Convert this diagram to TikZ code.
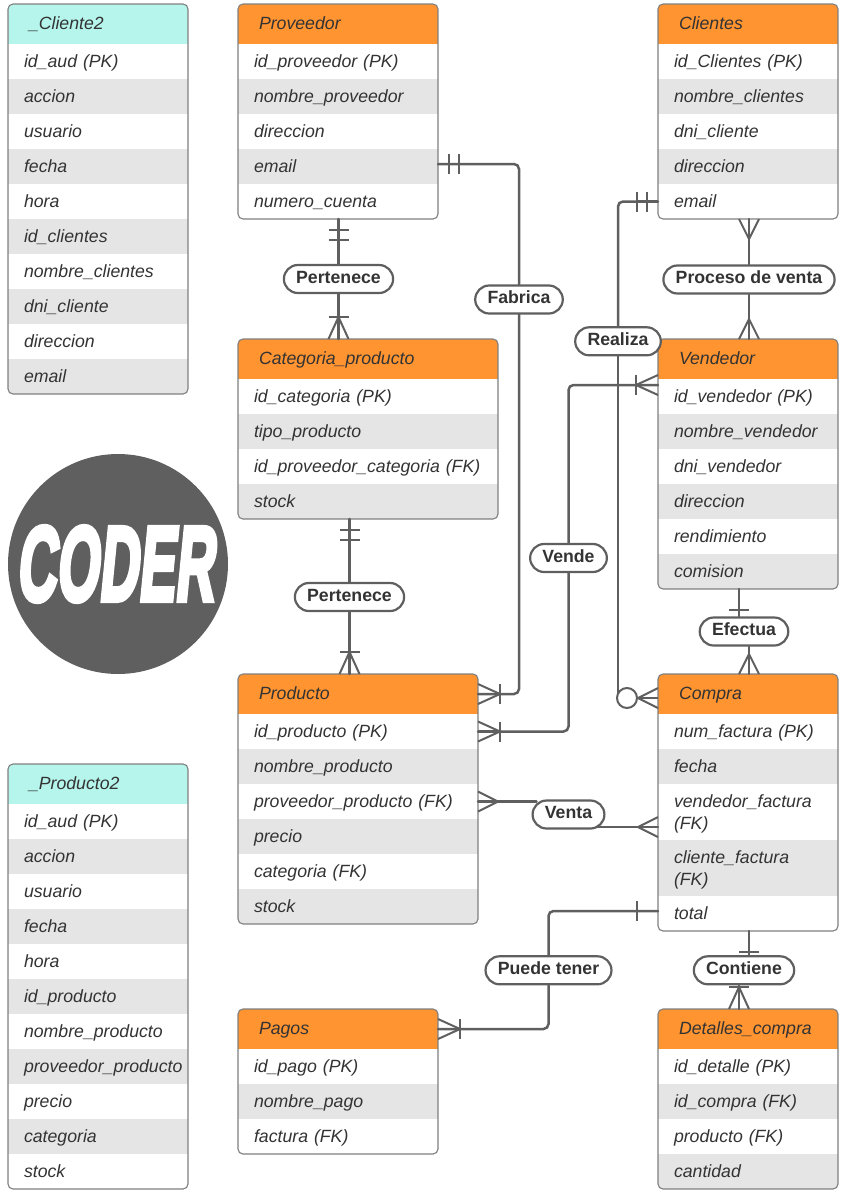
\documentclass[tikz,border=0pt]{standalone}
\usepackage{fontspec}
\setmainfont{Liberation Sans}
\newfontfamily\coderfont[FakeSlant=0.19,FakeBold=5]{Liberation Sans Bold}
\definecolor{hdrorange}{HTML}{FF9431}
\definecolor{hdraqua}{HTML}{B5F5EC}
\definecolor{rowgray}{HTML}{E5E5E5}
\definecolor{linegray}{HTML}{5F5F5F}
\definecolor{framegray}{HTML}{7F7F7F}
\definecolor{inkgray}{HTML}{333333}
\hyphenpenalty=10000
\catcode`\_=12
\newcommand{\rowstrut}{\rule[-4.2pt]{0pt}{21.2pt}}
\newcommand{\hdrstrut}{\rule[-6.2pt]{0pt}{23.2pt}}
\tikzset{
  tablecell/.style={anchor=north west,outer sep=0pt,inner ysep=0pt,align=left,text=inkgray,
    font=\fontsize{17.7}{21}\selectfont\itshape},
  tableframe/.style={draw=framegray,line width=1.1pt,rounded corners=5pt,anchor=north west,outer sep=0pt,inner sep=0pt},
  relline/.style={draw=linegray,line width=2.5pt},
  markline/.style={draw=linegray,line width=2.8pt,line cap=butt},
  crowline/.style={draw=linegray,line width=2pt,line cap=butt},
  rellabel/.style={draw=linegray,line width=2.2pt,fill=white,rounded corners=14pt,minimum height=28pt,
    inner xsep=12.3pt,inner ysep=0pt,text height=14pt,text depth=6pt,text=inkgray,font=\fontsize{17.7}{20}\selectfont\bfseries},
  % the end marks, each one drawn pointing along +x from the table edge
  crowbar/.pic={\draw[crowline] (0,-10) -- (22,0) -- (0,10);
    \draw[markline] (0,0) -- (22,0) (22,-10) -- (22,10);},
  crowonly/.pic={\draw[crowline] (0,-10) -- (20,0) -- (0,10);
    \draw[markline] (0,0) -- (20,0);},
  crowzero/.pic={\draw[crowline] (0,-10) -- (20,0) -- (0,10);
    \draw[markline] (0,0) -- (20,0);
    \draw[crowline,fill=white] (31,0) circle (10);},
  onebar/.pic={\draw[markline] (0,0) -- (21,0) (21,-10) -- (21,10);},
  twobar/.pic={\draw[markline] (0,0) -- (21,0) (11,-10) -- (11,10) (21,-10) -- (21,10);}
}
% name, x, y, width, height, header colour, title, rows
\newcommand{\erdtable}[8]{
  \begin{scope}
    \clip[rounded corners=5pt] (#2,#3) rectangle ++(#4,#5);
    \pgfmathsetlengthmacro{\hdrw}{#4-42}
    \pgfmathsetlengthmacro{\cellw}{#4-32}
    \node[tablecell,minimum width=#4pt,minimum height=40pt,text width=\hdrw,inner xsep=21pt,fill=#6] (#1-0) at (#2,#3) {\hdrstrut#7};
    \draw[inkgray,line width=0.9pt] (#1-0.south west) -- (#1-0.south east);
    \foreach \rowtext/\rowh [count=\rowi] in {#8}{
      \pgfmathtruncatemacro{\rowprev}{\rowi-1}
      \ifodd\rowi \def\rowfill{white}\else \def\rowfill{rowgray}\fi
      \node[tablecell,minimum width=#4pt,minimum height=\rowh pt,text width=\cellw,inner xsep=16pt,fill=\rowfill] (#1-\rowi) at (#1-\rowprev.south west) {\rowstrut\rowtext\rowstrut};
    }
  \end{scope}
  \node[tableframe,minimum width=#4pt,minimum height=#5pt] (#1) at (#2,#3) {};
}
\begin{document}
\begin{tikzpicture}[x=1pt,y=-1pt,cap=round]
  \useasboundingbox (0,0) rectangle (845,1195);

  % tables on the left
  \erdtable{cliente2}{8}{4}{180}{390}{hdraqua}{_Cliente2}{id_aud (PK)/35,accion/35,usuario/35,fecha/35,hora/35,id_clientes/35,nombre_clientes/35,dni_cliente/35,direccion/35,email/35}
  \erdtable{producto2}{8}{764}{180}{425}{hdraqua}{_Producto2}{id_aud (PK)/35,accion/35,usuario/35,fecha/35,hora/35,id_producto/35,nombre_producto/35,proveedor_producto/35,precio/35,categoria/35,stock/35}

  % the logo
  \fill[linegray] (118,564) circle (110);
  \node[text=white,font=\coderfont\fontsize{114}{114}\selectfont] (logo) at (115,564) {\scalebox{0.48}[0.93]{CODER}};

  % tables in the middle
  \erdtable{proveedor}{238}{4}{200}{215}{hdrorange}{Proveedor}{id_proveedor (PK)/35,nombre_proveedor/35,direccion/35,email/35,numero_cuenta/35}
  \erdtable{categoria}{238}{339}{260}{180}{hdrorange}{Categoria_producto}{id_categoria (PK)/35,tipo_producto/35,id_proveedor_categoria (FK)/35,stock/35}
  \erdtable{producto}{238}{674}{240}{250}{hdrorange}{Producto}{id_producto (PK)/35,nombre_producto/35,proveedor_producto (FK)/35,precio/35,categoria (FK)/35,stock/35}
  \erdtable{pagos}{238}{1009}{200}{145}{hdrorange}{Pagos}{id_pago (PK)/35,nombre_pago/35,factura (FK)/35}

  % tables on the right
  \erdtable{clientes}{658}{4}{180}{215}{hdrorange}{Clientes}{id_Clientes (PK)/35,nombre_clientes/35,dni_cliente/35,direccion/35,email/35}
  \erdtable{vendedor}{658}{339}{180}{250}{hdrorange}{Vendedor}{id_vendedor (PK)/35,nombre_vendedor/35,dni_vendedor/35,direccion/35,rendimiento/35,comision/35}
  \erdtable{compra}{658}{674}{180}{257}{hdrorange}{Compra}{num_factura (PK)/35,fecha/35,vendedor_factura\\(FK)/56,cliente_factura\\(FK)/56,total/35}
  \erdtable{detalles}{658}{1009}{180}{180}{hdrorange}{Detalles_compra}{id_detalle (PK)/35,id_compra (FK)/35,producto (FK)/35,cantidad/35}

  % the relations
  \node[rellabel] (pertenece1) at (338.5,279) {Pertenece};
  \node[rellabel] (pertenece2) at (349.5,597) {Pertenece};
  \node[rellabel] (fabrica) at (519,299.5) {Fabrica};
  \node[rellabel] (realiza) at (618,341.3) {Realiza};
  \node[rellabel] (procesoventa) at (749,279.5) {Proceso de venta};
  \node[rellabel] (vende) at (568.5,558) {Vende};
  \node[rellabel] (efectua) at (744,631.5) {Efectua};
  \node[rellabel] (venta) at (568.5,814.5) {Venta};
  \node[rellabel] (puedetener) at (548.5,970.3) {Puede tener};
  \node[rellabel] (contiene) at (744,970.3) {Contiene};

  % connectors
  \draw[relline] (pertenece1.north) -- (pertenece1.north |- proveedor.south);
  \draw[relline] (pertenece1.south) -- (pertenece1.south |- categoria.north);
  \draw[relline] (pertenece2.north) -- (pertenece2.north |- categoria.south);
  \draw[relline] (pertenece2.south) -- (pertenece2.south |- producto.north);
  \draw[relline,rounded corners=5pt] ([yshift=2.5pt]proveedor-4.east) -| (fabrica.north);
  \draw[relline,rounded corners=5pt] (fabrica.south) |- (producto-0.east);
  \draw[relline,rounded corners=5pt] (clientes-5.west) -| (realiza.north);
  \draw[relline] (realiza.south) -- ([yshift=-4pt]realiza.south |- compra-0.west);
  \draw[relline,rounded corners=5pt] ([yshift=11.5pt]vendedor-1.west) -| (vende.north);
  \draw[relline,rounded corners=5pt] (vende.south) |- (producto-1.east);
  \draw[relline] (procesoventa.north) -- (procesoventa.north |- clientes.south);
  \draw[relline] (procesoventa.south) -- (procesoventa.south |- vendedor.north);
  \draw[relline] ([xshift=-5pt]efectua.north) -- ([xshift=-5pt]efectua.north |- vendedor.south);
  \draw[relline] ([xshift=5pt]efectua.south) -- ([xshift=5pt]efectua.south |- compra.north);
  \draw[relline] (producto-3.east) -- ([xshift=5pt]producto-3.east -| venta.west);
  \draw[relline] ([yshift=-15pt]compra-3.west) -- ([xshift=-8pt,yshift=-15pt]compra-3.west -| venta.east);
  \draw[relline,rounded corners=5pt] ([yshift=2.5pt]compra-5.west) -| (puedetener.north);
  \draw[relline,rounded corners=5pt] (puedetener.south) |- (pagos-0.east);
  \draw[relline] ([xshift=5pt]contiene.north) -- ([xshift=5pt]contiene.north |- compra.south);
  \draw[relline] ([xshift=-5pt]contiene.south) -- ([xshift=-5pt]contiene.south |- detalles.north);

  % end marks
  \pic[rotate=-90] at (pertenece1.north |- proveedor.south) {twobar};
  \pic[rotate=90] at (pertenece1.south |- categoria.north) {crowbar};
  \pic[rotate=-90] at (pertenece2.north |- categoria.south) {twobar};
  \pic[rotate=90] at (pertenece2.south |- producto.north) {crowbar};
  \pic at ([yshift=2.5pt]proveedor-4.east) {twobar};
  \pic at (producto-0.east) {crowbar};
  \pic[rotate=180] at (clientes-5.west) {twobar};
  \pic[rotate=180] at ([yshift=-4pt]compra-0.west) {crowzero};
  \pic[rotate=180] at ([yshift=11.5pt]vendedor-1.west) {crowbar};
  \pic at (producto-1.east) {crowbar};
  \pic[rotate=-90] at (procesoventa.north |- clientes.south) {crowonly};
  \pic[rotate=90] at (procesoventa.south |- vendedor.north) {crowonly};
  \pic[rotate=-90] at ([xshift=-5pt]efectua.north |- vendedor.south) {onebar};
  \pic[rotate=90] at ([xshift=5pt]efectua.south |- compra.north) {crowonly};
  \pic at (producto-3.east) {crowonly};
  \pic[rotate=180] at ([yshift=-15pt]compra-3.west) {crowonly};
  \pic[rotate=180] at ([yshift=2.5pt]compra-5.west) {onebar};
  \pic at (pagos-0.east) {crowbar};
  \pic[rotate=-90] at ([xshift=5pt]contiene.north |- compra.south) {onebar};
  \pic[rotate=90] at ([xshift=-5pt]contiene.south |- detalles.north) {crowbar};
\end{tikzpicture}
\end{document}
